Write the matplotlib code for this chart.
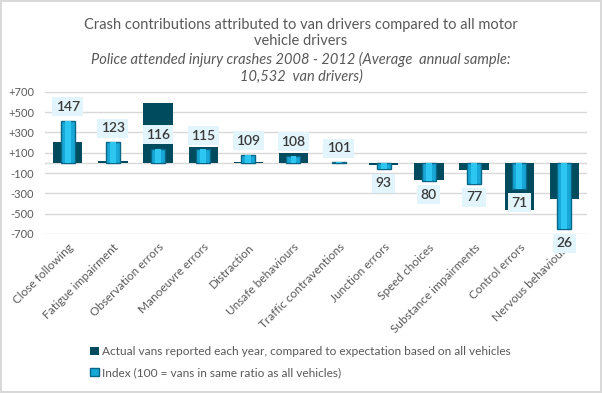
import matplotlib.pyplot as plt

# data
categories = ['Close following', 'Fatigue impairment', 'Observation errors',
              'Manoeuvre errors', 'Distraction', 'Unsafe behaviours',
              'Traffic contraventions', 'Junction errors', 'Speed choices',
              'Substance impairments', 'Control errors', 'Nervous behaviours']
actual_diff = [202, 15, 593, 153, 10, 94, 2, -20, -172, -70, -468, -356]
index_vals = [147, 123, 116, 115, 109, 108, 101, 93, 80, 77, 71, 26]

y_ticks = [-700, -500, -300, -100, 100, 300, 500, 700]
y_labels = ['-700', '-500', '-300', '-100', '+100', '+300', '+500', '+700']

plt.rcParams['font.family'] = ['Lato', 'DejaVu Sans']
grey = '#595959'
dark = '#004b5e'
light = '#17a8d8'

fig = plt.figure(figsize=(6.02, 3.93), dpi=100)
fig.patch.set_edgecolor('#d9d9d9')
fig.patch.set_linewidth(1.5)

ax = fig.add_axes([0.075, 0.405, 0.900, 0.361])
x = list(range(len(categories)))

# dark bars - actual vs expectation
ax.bar(x, actual_diff, width=0.65, color=dark, zorder=2,
       label='Actual vans reported each year, compared to expectation based on all vehicles')
ax.set_ylim(-700, 700)
ax.set_xlim(-0.5, len(categories) - 0.5)
ax.set_yticks(y_ticks)
ax.set_yticklabels(y_labels)
ax.yaxis.grid(True, color='#d9d9d9', linewidth=1, zorder=0)
ax.axhline(0, color='#d9d9d9', linewidth=1, zorder=1)
ax.tick_params(axis='y', length=0, labelsize=8, labelcolor=grey, pad=8)
ax.tick_params(axis='x', length=0, labelsize=8.5, labelcolor=grey)
ax.set_xticks(x)
ax.set_xticklabels(categories, rotation=45, ha='right', va='top',
                   rotation_mode='anchor')
for lbl in ax.get_xticklabels():
    lbl.set_y(-0.02)
for s in ax.spines.values():
    s.set_visible(False)
ax.set_axisbelow(True)

# index bars on secondary axis, based at 100
ax2 = ax.twinx()
ax2.set_ylim(21, 179)
heights = [v - 100 for v in index_vals]
ax2.bar(x, heights, bottom=100, width=0.31, color=light, edgecolor='#0b6584',
        linewidth=1, zorder=3,
        label='Index (100 = vans in same ratio as all vehicles)')
ax2.bar(x, heights, bottom=100, width=0.13, color='#2cc6f0', linewidth=0, zorder=4)
ax2.axis('off')

for xi, v in zip(x, index_vals):
    off = 10 if v >= 100 else -10
    ax2.annotate(str(v), (xi, v), xytext=(0, off), textcoords='offset points',
                 ha='center', va='center', fontsize=10, color='#3a3a3a',
                 fontweight='semibold', zorder=6,
                 bbox=dict(boxstyle='square,pad=0.25', fc='#e3f5fc', ec='none'))

# title
fig.text(0.5, 0.955, 'Crash contributions attributed to van drivers compared to all motor\nvehicle drivers',
         ha='center', va='top', fontsize=10.5, color=grey, linespacing=1.25)
fig.text(0.5, 0.868, 'Police attended injury crashes 2008 - 2012 (Average  annual sample:\n10,532  van drivers)',
         ha='center', va='top', fontsize=10.5, color=grey, style='italic', linespacing=1.25)

# legend
h1, l1 = ax.get_legend_handles_labels()
h2, l2 = ax2.get_legend_handles_labels()
leg = fig.legend(h1 + h2, l1 + l2, loc='lower left', bbox_to_anchor=(0.132, 0.01),
                 frameon=False, fontsize=8.6, labelcolor=grey, handlelength=0.7,
                 handleheight=0.7, handletextpad=0.3, labelspacing=0.85)

fig.savefig('out.png', dpi=100, edgecolor=fig.get_edgecolor())
